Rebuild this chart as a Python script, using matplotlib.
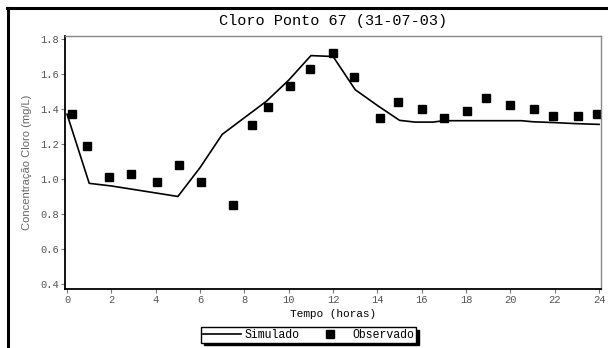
"""Cloro Ponto 67 — simulado x observado."""
import matplotlib
matplotlib.use("Agg")
import matplotlib.pyplot as plt
from matplotlib.lines import Line2D

MONO = ["Liberation Mono", "DejaVu Sans Mono"]
SANS = ["Liberation Sans", "DejaVu Sans"]

# ── dados ─────────────────────────────────────────
sim_horas = [0, 1, 2, 3, 4, 5, 6, 7, 8, 9, 10, 11, 12, 13, 14, 15,
             15.7, 16.5, 17, 18, 19, 20.5, 21, 22, 23, 24]
sim_cloro = [1.37, 0.975, 0.96, 0.94, 0.92, 0.90, 1.065, 1.255, 1.35, 1.445,
             1.565, 1.705, 1.70, 1.51, 1.42, 1.335, 1.325, 1.325, 1.333, 1.333,
             1.333, 1.333, 1.327, 1.322, 1.316, 1.312]

obs_horas = [0.22, 0.88, 1.88, 2.87, 4.05, 5.04, 6.03, 7.5, 8.36, 9.05, 10.06,
             10.96, 11.98, 12.93, 14.1, 14.93, 16.01, 16.99, 18.06, 18.91,
             19.98, 21.05, 21.91, 23.04, 23.89]
obs_cloro = [1.37, 1.19, 1.01, 1.03, 0.98, 1.08, 0.98, 0.85, 1.31, 1.41, 1.53,
             1.63, 1.72, 1.58, 1.35, 1.44, 1.40, 1.35, 1.39, 1.46, 1.42, 1.40,
             1.36, 1.36, 1.37]

x_ticks = list(range(0, 25, 2))
y_ticks = [0.4, 0.6, 0.8, 1.0, 1.2, 1.4, 1.6, 1.8]

# ── gráfico ───────────────────────────────────────
fig = plt.figure(figsize=(6.08, 3.48), dpi=100)
ax = fig.add_axes([0.107, 0.1695, 0.882, 0.727])

ax.plot(sim_horas, sim_cloro, color="black", lw=1.2, label="Simulado")
ax.plot(obs_horas, obs_cloro, ls="none", marker="s", ms=5.6, color="black",
        label="Observado")

ax.set_xlim(-0.09, 24.1)
ax.set_ylim(0.371, 1.817)
ax.set_xticks(x_ticks)
ax.set_yticks(y_ticks)
ax.set_yticklabels([f"{v:.1f}" for v in y_ticks])

for lab in ax.get_xticklabels() + ax.get_yticklabels():
    lab.set_family(MONO)
    lab.set_fontsize(7.5)
    lab.set_color("#555555")
ax.tick_params(direction="out", length=3, width=0.8, color="#777777", pad=1.5)

for side in ["top", "right"]:
    ax.spines[side].set_color("#888888")
    ax.spines[side].set_linewidth(1.0)
for side in ["left", "bottom"]:
    ax.spines[side].set_color("black")
    ax.spines[side].set_linewidth(1.3)

ax.set_title("Cloro Ponto 67 (31-07-03)", family=MONO, fontsize=11, pad=8)
ax.set_xlabel("Tempo (horas)", family=MONO, fontsize=8, labelpad=3)
ax.set_ylabel("Concentração Cloro (mg/L)", family=SANS, fontsize=8,
              color="#666666", labelpad=6)

leg = fig.legend(loc="center", bbox_to_anchor=(0.508, 0.038), ncol=2,
                 frameon=True, fancybox=False, edgecolor="black",
                 shadow={"color": "black", "alpha": 1.0},
                 prop={"family": MONO, "size": 8.3}, numpoints=1,
                 handlelength=3.3, columnspacing=1.0, borderpad=0.15,
                 handletextpad=0.3, borderaxespad=0)
leg.get_frame().set_linewidth(1.0)

# moldura externa (cortada à direita e embaixo)
fig.add_artist(Line2D([0.0132, 0.0132], [-0.1, 0.9775], color="black", lw=2.2,
                      transform=fig.transFigure))
fig.add_artist(Line2D([0.0115, 1.1], [0.9775, 0.9775], color="black", lw=2.2,
                      transform=fig.transFigure))

fig.savefig("out.png", dpi=100)
